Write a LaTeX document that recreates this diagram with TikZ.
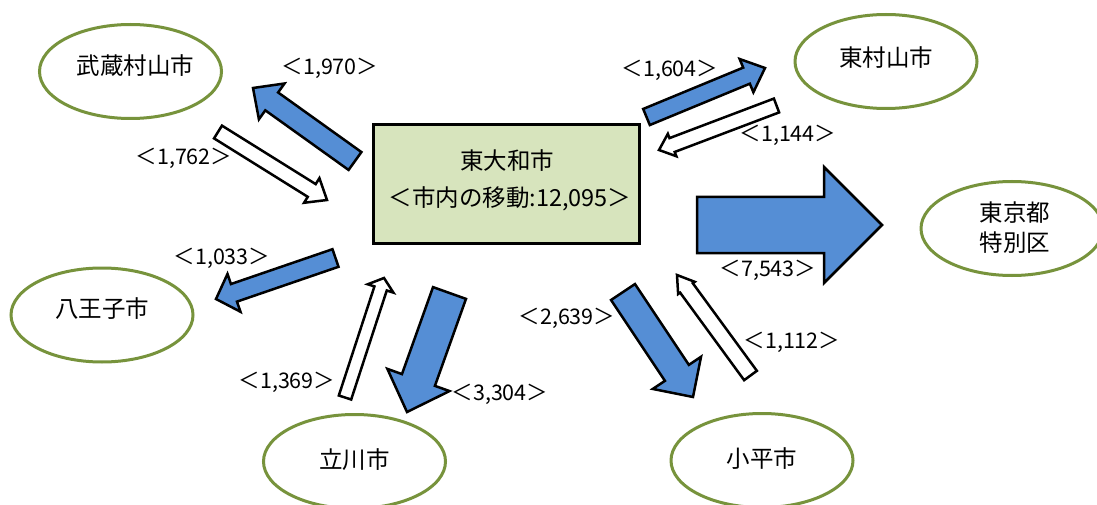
\documentclass[tikz,border=0pt]{standalone}
\usepackage{fontspec}
\setmainfont{Noto Sans CJK JP}
\usetikzlibrary{shapes.geometric}
\definecolor{arrblue}{HTML}{558ED5}
\definecolor{boxgreen}{HTML}{D7E4BD}
\definecolor{ellgreen}{HTML}{77933C}
\newcommand{\blockarr}[8]{%
  \pgfmathsetmacro\baAng{atan2((#3)-(#5),(#4)-(#2))}%
  \pgfmathsetmacro\baLen{veclen((#4)-(#2),(#5)-(#3))}%
  \pgfmathsetmacro\baHb{\baLen-(#8)}%
  \begin{scope}[shift={(#2,-#3)},rotate=\baAng]
    \draw[#1] (0,-#6) -- (\baHb,-#6) -- (\baHb,-#7) -- (\baLen,0) -- (\baHb,#7) -- (\baHb,#6) -- (0,#6) -- cycle;
  \end{scope}}
\tikzset{
  ell/.style={ellipse, draw=ellgreen, line width=3pt, fill=white, minimum width=182pt, minimum height=94pt, inner sep=0pt},
  txt/.style={font=\fontsize{23.5}{28}\selectfont, inner sep=0pt, align=center},
  lab/.style={font=\fontsize{21.5}{24}\selectfont, inner sep=0pt},
  bluearr/.style={fill=arrblue, draw=black, line width=2.5pt, line join=miter},
  whitearr/.style={fill=white, draw=black, line width=2.5pt, line join=miter},
  cbox/.style={draw=black, line width=3pt, fill=boxgreen, minimum width=266pt, minimum height=118pt, inner sep=0pt}
}
\begin{document}
\begin{tikzpicture}[x=1pt,y=1pt]
\useasboundingbox (0,0) rectangle (1097,-505);
\fill[white] (0,0) rectangle (1097,-505);
\clip (0,0) rectangle (1097,-505);
% center box
\node[cbox] (center) at (506.5,-184) {};
\node[txt] (ctitle) at (507,-161) {東大和市};
\node[txt] (csub) at (510,-199) {＜市内の移動:12,095＞};
% ellipses
\node[ell] (musashi) at (130.5,-71.5) {};
\node[txt] at ([xshift=5pt,yshift=6pt]musashi.center) {武蔵村山市};
\node[ell] (higashi) at (886,-61.5) {};
\node[txt] at ([yshift=4pt]higashi.center) {東村山市};
\node[ell] (tokyo) at (1012,-228.5) {};
\node[txt, font=\fontsize{23.5}{30}\selectfont] at ([xshift=3pt,yshift=1pt]tokyo.center) {東京都\\特別区};
\node[ell] (hachi) at (102,-315) {};
\node[txt] at ([yshift=6pt]hachi.center) {八王子市};
\node[ell] (tachi) at (354.5,-461.5) {};
\node[txt] at ([yshift=2pt]tachi.center) {立川市};
\node[ell] (kodaira) at (762,-460.5) {};
\node[txt] at ([yshift=2pt]kodaira.center) {小平市};
% arrows
\blockarr{bluearr}{355}{161}{253}{88}{11}{22}{23}
\blockarr{whitearr}{218}{132}{327}{200}{7.5}{14.5}{18}
\blockarr{bluearr}{646.5}{117}{765}{68}{8.7}{18}{20}
\blockarr{whitearr}{776.5}{105.5}{659}{150}{7.4}{12}{14}
\blockarr{bluearr}{697}{225}{882}{225}{28}{58}{58}
\blockarr{bluearr}{335.5}{258}{216}{299}{9.3}{20}{19}
\blockarr{whitearr}{345}{397.5}{384}{278}{6.5}{13.5}{11}
\blockarr{bluearr}{449.5}{293}{407}{412}{17.5}{33}{34}
\blockarr{bluearr}{623}{292}{693}{397}{14.4}{29}{29}
\blockarr{whitearr}{750.5}{375.5}{677}{275}{7.9}{10.3}{16}
% labels
\node[lab] (l1970) at (330,-68) {＜1,970＞};
\node[lab] (l1762) at (184,-158) {＜1,762＞};
\node[lab] (l1604) at (670,-70) {＜1,604＞};
\node[lab] (l1144) at (788,-135) {＜1,144＞};
\node[lab] (l7543) at (768,-270) {＜7,543＞};
\node[lab] (l1033) at (222,-258) {＜1,033＞};
\node[lab] (l1369) at (287,-382) {＜1,369＞};
\node[lab] (l3304) at (500,-394) {＜3,304＞};
\node[lab] (l2639) at (567,-318) {＜2,639＞};
\node[lab] (l1112) at (792,-342) {＜1,112＞};
\end{tikzpicture}
\end{document}
